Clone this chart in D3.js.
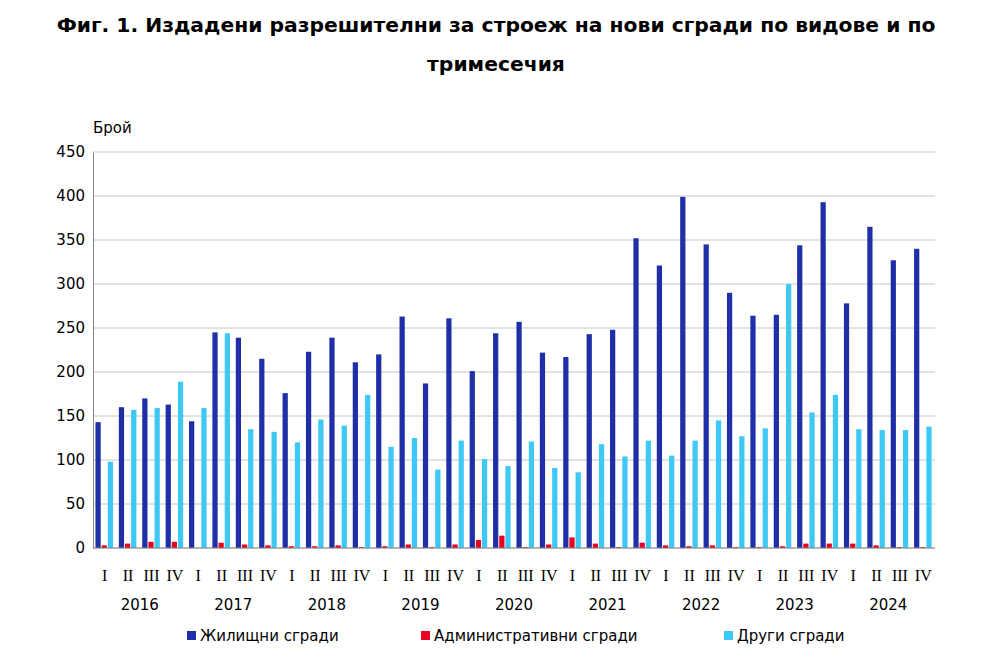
<!DOCTYPE html><html><head><meta charset="utf-8">
<script src="https://cdn.jsdelivr.net/npm/d3@7"></script>
<style>body{margin:0;background:#fff;font-family:"DejaVu Sans",Verdana,sans-serif}</style></head><body>
<svg id="c" width="1000" height="667"></svg>
<script>
const years=["2016","2017","2018","2019","2020","2021","2022","2023","2024"];
const quarters=["I","II","III","IV"];
const residential=[143,160,170,163,144,245,239,215,176,223,239,211,220,263,187,261,201,244,257,222,217,243,248,352,321,399,345,290,264,265,344,393,278,365,327,340];
const administrative=[3,5,7,7,0,6,4,3,2,2,3,1,2,4,1,4,9,14,1,4,12,5,1,6,3,2,3,1,1,2,5,5,5,3,1,1];
const other=[98,157,159,189,159,244,135,132,120,146,139,174,115,125,89,122,101,93,121,91,86,118,104,122,105,122,145,127,136,300,154,174,135,134,134,138];
const seriesNames=["Жилищни сгради","Административни сгради","Други сгради"];
const colors=["#1f2fa8","#e8001c","#3ec8f5"];
const yTicks=[0,50,100,150,200,250,300,350,400,450];

const svg=d3.select("#c");
const F="DejaVu Sans, Verdana, sans-serif";
svg.append("text").attr("x",496).attr("y",32).attr("text-anchor","middle").attr("font-weight","bold").attr("font-size",20.3).attr("font-family",F).text("Фиг. 1. Издадени разрешителни за строеж на нови сгради по видове и по");
svg.append("text").attr("x",496).attr("y",71).attr("text-anchor","middle").attr("font-weight","bold").attr("font-size",20.3).attr("font-family",F).text("тримесечия");

const L=93,R=935,T=152,B=548;
const y=d3.scaleLinear().domain([0,450]).range([B,T]);
const keys=d3.range(36);
const x=d3.scaleBand().domain(keys).range([L,R]);
const xs=d3.scaleBand().domain([0,1,2]).range([0,x.bandwidth()]).paddingInner(0).paddingOuter(0.4);
const series=[residential,administrative,other];

svg.append("g").selectAll("line").data(yTicks).join("line")
 .attr("x1",L).attr("x2",R).attr("y1",d=>y(d)).attr("y2",d=>y(d)).attr("stroke","#c8c8c8").attr("stroke-width",1);
const ax=svg.append("g").attr("transform",`translate(${L},0)`).call(d3.axisLeft(y).tickValues(yTicks).tickSize(0).tickPadding(8));
ax.select(".domain").attr("stroke","#888");
ax.selectAll("text").attr("font-size",15).attr("font-family",F);
svg.append("text").attr("x",93).attr("y",133).attr("font-size",15).attr("font-family",F).text("Брой");

series.forEach((s,si)=>{
 svg.append("g").selectAll("rect").data(s).join("rect")
  .attr("x",(d,i)=>x(i)+xs(si)).attr("width",xs.bandwidth()*0.85)
  .attr("y",d=>y(d)).attr("height",d=>B-y(d)).attr("fill",colors[si]);
});
svg.append("line").attr("x1",L).attr("x2",R).attr("y1",B).attr("y2",B).attr("stroke","#888");

svg.append("g").selectAll("text").data(keys).join("text")
 .attr("x",i=>x(i)+x.bandwidth()/2).attr("y",581).attr("text-anchor","middle")
 .attr("font-size",16).attr("font-family","Liberation Serif, serif").text(i=>quarters[i%4]);
svg.append("g").selectAll("text").data(years).join("text")
 .attr("x",(d,i)=>x(i*4)+x.bandwidth()*2).attr("y",610).attr("text-anchor","middle")
 .attr("font-size",15).attr("font-family",F).text(d=>d);

const lx=[187,421,724];
seriesNames.forEach((n,i)=>{
 svg.append("rect").attr("x",lx[i]).attr("y",631).attr("width",9).attr("height",9).attr("fill",colors[i]);
 svg.append("text").attr("x",lx[i]+13).attr("y",641).attr("font-size",15).attr("font-family",F).text(n);
});
</script></body></html>
